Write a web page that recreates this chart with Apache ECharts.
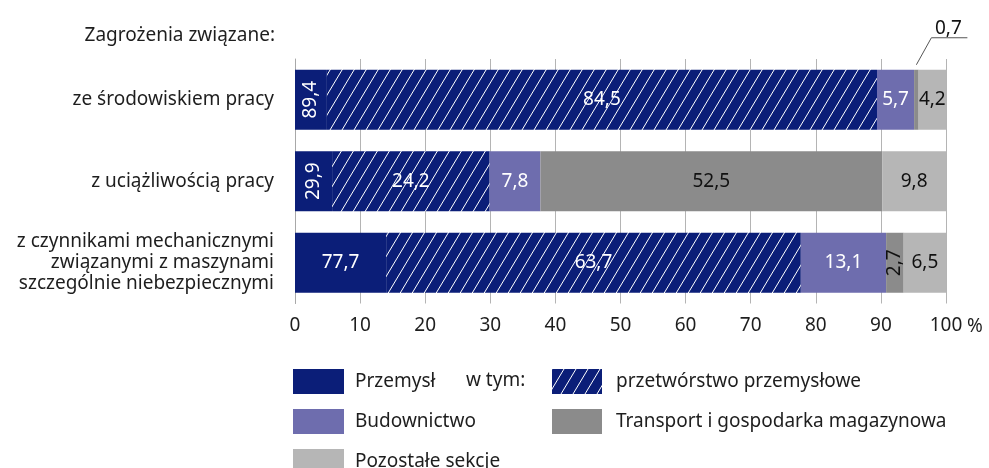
<!DOCTYPE html>
<html>
<head>
<meta charset="utf-8">
<script src="https://cdn.jsdelivr.net/npm/echarts@6/dist/echarts.min.js"></script>
<style>
html,body{margin:0;padding:0;background:#fff;}
#chart{width:989px;height:468px;}
</style>
</head>
<body>
<div id="chart"></div>
<script>
// ---- data ----
const categories = [
  'ze środowiskiem pracy',
  'z uciążliwością pracy',
  'z czynnikami mechanicznymi\nzwiązanymi z maszynami\nszczególnie niebezpiecznymi'
];
const przemyslTotal = [89.4, 29.9, 77.7];
const przetworstwo = [84.5, 24.2, 63.7];
const budownictwo = [5.7, 7.8, 13.1];
const transport = [0.7, 52.5, 2.7];
const pozostale = [4.2, 9.8, 6.5];
const axisMin = 0, axisMax = 100, axisStep = 10;

const FONT = '"Noto Sans", "Open Sans", sans-serif';
const TXT = '#1e1e1e';
const NAVY = '#0b1e78';
const LAV = '#6e6dae';
const DGRAY = '#8b8b8b';
const LGRAY = '#b6b6b6';

function fmt(v){ return v.toFixed(1).replace('.', ','); }

// hatch pattern
function makeHatch(){
  const w = 12, h = 20;
  const c = document.createElement('canvas');
  c.width = w; c.height = h;
  const ctx = c.getContext('2d');
  ctx.fillStyle = NAVY;
  ctx.fillRect(0,0,w,h);
  ctx.strokeStyle = '#ffffff';
  ctx.lineWidth = 1.0;
  for (let k = -1; k <= 1; k++){
    ctx.beginPath();
    ctx.moveTo(k*w, h);
    ctx.lineTo(k*w + w, 0);
    ctx.stroke();
  }
  return c;
}
const hatch = {image: makeHatch(), repeat: 'repeat'};

const chart = echarts.init(document.getElementById('chart'), null, {renderer:'canvas'});

const baseLabel = {show: true, fontFamily: FONT, fontSize: 19};

const przemyslSolid = przemyslTotal.map((t,i) => ({
  value: Math.round((t - przetworstwo[i]) * 10) / 10,
  label: i < 2 ? {rotate: 90} : {}
}));

function legendItem(name, left, top, w, gap){
  return {
    data: [name], left: left, top: top, padding: 0,
    itemWidth: w, itemHeight: 25, selectedMode: false, icon: 'rect',
    textStyle: {fontFamily: FONT, fontSize: 19, color: TXT, padding: [0,0,0,gap]}
  };
}

const option = {
  animation: false,
  textStyle: {fontFamily: FONT},
  title: {
    text: 'Zagrożenia związane:',
    right: 989 - 275,
    top: 26,
    padding: 0,
    textStyle: {fontFamily: FONT, fontSize: 19, fontWeight: 'normal', color: TXT}
  },
  grid: {left: 295, top: 59, right: 43, bottom: 164.5, containLabel: false},
  xAxis: {
    type: 'value', min: axisMin, max: axisMax, interval: axisStep,
    axisLine: {show: false}, axisTick: {show: false},
    splitLine: {show: true, lineStyle: {color: '#b4b4b4', width: 1}},
    axisLabel: {fontFamily: FONT, fontSize: 19, color: TXT, margin: 13}
  },
  yAxis: {
    type: 'category', data: categories, inverse: true,
    axisLine: {show: true, lineStyle: {color: '#a8a8a8'}},
    axisTick: {show: false},
    axisLabel: {fontFamily: FONT, fontSize: 19, color: TXT, margin: 21, lineHeight: 21, align: 'right'}
  },
  legend: [
    legendItem('Przemysł', 293, 369, 51, 6),
    legendItem('Budownictwo', 293, 409, 51, 6),
    legendItem('Pozostałe sekcje', 293, 449, 51, 6),
    legendItem('przetwórstwo przemysłowe', 552, 369, 50, 9),
    legendItem('Transport i gospodarka magazynowa', 552, 409, 50, 9)
  ],
  series: [
    {
      name: 'Przemysł', type: 'bar', stack: 's', barWidth: 60,
      itemStyle: {color: NAVY},
      label: Object.assign({}, baseLabel, {color: '#fff', formatter: p => fmt(przemyslTotal[p.dataIndex])}),
      data: przemyslSolid
    },
    {
      name: 'przetwórstwo przemysłowe', type: 'bar', stack: 's', barWidth: 60,
      itemStyle: {color: hatch},
      label: Object.assign({}, baseLabel, {color: '#fff', formatter: p => fmt(p.value)}),
      data: przetworstwo
    },
    {
      name: 'Budownictwo', type: 'bar', stack: 's', barWidth: 60,
      itemStyle: {color: LAV},
      label: Object.assign({}, baseLabel, {color: '#fff', formatter: p => fmt(p.value)}),
      data: budownictwo
    },
    {
      name: 'Transport i gospodarka magazynowa', type: 'bar', stack: 's', barWidth: 60,
      itemStyle: {color: DGRAY},
      label: Object.assign({}, baseLabel, {color: '#111', formatter: p => fmt(p.value)}),
      data: transport.map((v,i) => {
        if (i === 0) return {value: v, label: {offset: [32, -71]}};
        if (i === 2) return {value: v, label: {rotate: 90}};
        return v;
      })
    },
    {
      name: 'Pozostałe sekcje', type: 'bar', stack: 's', barWidth: 60,
      itemStyle: {color: LGRAY},
      label: Object.assign({}, baseLabel, {color: '#111', formatter: p => fmt(p.value)}),
      data: pozostale
    }
  ]
};
chart.setOption(option);

// annotations placed through the chart's own scales
const xEnd = chart.convertToPixel({xAxisIndex: 0}, axisMax);
const cumBefore = przemyslTotal[0] + budownictwo[0];
const mid = chart.convertToPixel({xAxisIndex: 0, yAxisIndex: 0}, [cumBefore + transport[0] / 2, 0]);
const axisLabelY = chart.convertToPixel({xAxisIndex: 0, yAxisIndex: 0}, [0, categories.length - 1])[1] + 64;

chart.setOption({
  graphic: [
    {
      type: 'polyline', silent: true,
      shape: {points: [[mid[0], mid[1] - 35], [mid[0] + 15, mid[1] - 62], [mid[0] + 51, mid[1] - 62]]},
      style: {stroke: '#555', lineWidth: 1, fill: null}
    },
    {
      type: 'text', silent: true,
      x: xEnd + 21, y: axisLabelY,
      style: {text: '%', font: '19px ' + FONT, fill: TXT, textAlign: 'left', textVerticalAlign: 'middle'}
    },
    {
      type: 'text', silent: true,
      x: 466, y: 381,
      style: {text: 'w tym:', font: '19px ' + FONT, fill: TXT, textAlign: 'left', textVerticalAlign: 'middle'}
    }
  ]
});
</script>
</body>
</html>
